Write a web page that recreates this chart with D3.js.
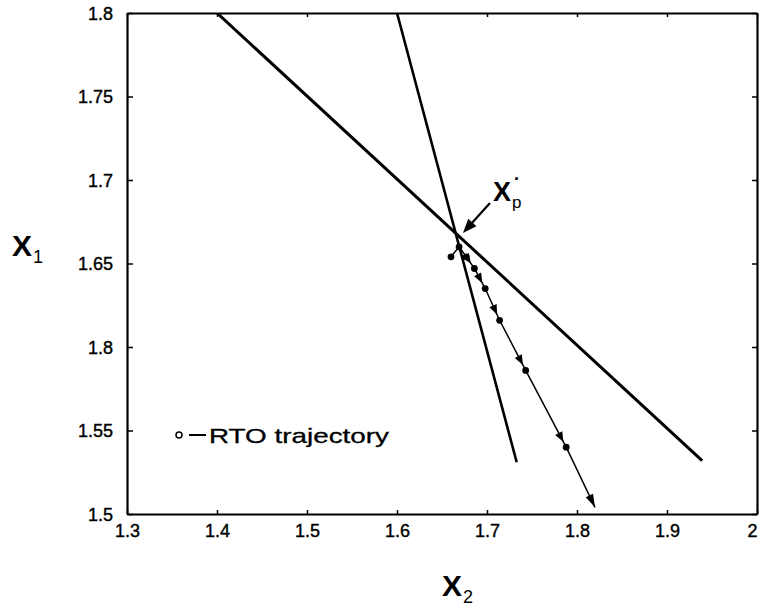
<!DOCTYPE html>
<html>
<head>
<meta charset="utf-8">
<script src="https://cdn.jsdelivr.net/npm/d3@7/dist/d3.min.js"></script>
<style>
  html, body { margin: 0; padding: 0; background: #fff; }
  svg { display: block; }
  text { font-family: "Liberation Sans", Arial, sans-serif; fill: #000; }
</style>
</head>
<body>
<svg id="chart" width="759" height="608"></svg>
<script>
// ---- data ----
const xDomain = [1.3, 2.0];
const yDomain = [1.5, 1.8];
const xTicks = [1.3, 1.4, 1.5, 1.6, 1.7, 1.8, 1.9, 2.0];
const xTickLabels = ["1.3", "1.4", "1.5", "1.6", "1.7", "1.8", "1.9", "2"];
const yTicks = [1.5, 1.55, 1.6, 1.65, 1.7, 1.75, 1.8];
const yTickLabels = ["1.5", "1.55", "1.8", "1.65", "1.7", "1.75", "1.8"];

// constraint lines (x2, x1)
const constraintA = [[1.4, 1.8], [1.939, 1.532]];
const constraintB = [[1.6, 1.8], [1.733, 1.531]];

// RTO trajectory (x2, x1)
const trajX2 = [1.660, 1.669, 1.677, 1.686, 1.698, 1.714, 1.743, 1.788, 1.820];
const trajX1 = [1.654, 1.660, 1.654, 1.647, 1.635, 1.616, 1.586, 1.540, 1.504];

// optimum annotation arrow (tail, tip) in (x2, x1)
const optArrow = [[1.7033, 1.6862], [1.6733, 1.6683]];

// ---- layout ----
const svg = d3.select("#chart");
const L = 127, R = 757, T = 13, B = 514;
const x = d3.scaleLinear().domain(xDomain).range([L, R]);
const y = d3.scaleLinear().domain(yDomain).range([B, T]);

const fmtX = d => xTickLabels[xTicks.findIndex(t => Math.abs(t - d) < 1e-9)];
const fmtY = d => yTickLabels[yTicks.findIndex(t => Math.abs(t - d) < 1e-9)];

// bottom axis
const gB = svg.append("g").attr("transform", `translate(0,${B})`)
  .call(d3.axisBottom(x).tickValues(xTicks).tickFormat(fmtX).tickSizeInner(-4).tickSizeOuter(0).tickPadding(10));
// left axis
const gL = svg.append("g").attr("transform", `translate(${L},0)`)
  .call(d3.axisLeft(y).tickValues(yTicks).tickFormat(fmtY).tickSizeInner(-6).tickSizeOuter(0).tickPadding(14));
// top axis
const gT = svg.append("g").attr("transform", `translate(0,${T})`)
  .call(d3.axisTop(x).tickValues(xTicks).tickFormat("").tickSizeInner(-4).tickSizeOuter(0));
// right axis
const gR = svg.append("g").attr("transform", `translate(${R},0)`)
  .call(d3.axisRight(y).tickValues(yTicks).tickFormat("").tickSizeInner(-5).tickSizeOuter(0));

[gB, gL, gT, gR].forEach(g => {
  g.select(".domain").attr("stroke", "#000").attr("stroke-width", 2.2);
  g.selectAll(".tick line").attr("stroke", "#000").attr("stroke-width", 1.5);
  g.selectAll(".tick text").attr("font-size", 18).attr("fill", "#000")
    .attr("stroke", "#000").attr("stroke-width", 0.4)
    .attr("font-family", "'Liberation Sans', Arial, sans-serif");
});
gL.selectAll(".tick text").attr("dy", "0.36em");
// keep the last x label inside the frame
gB.selectAll(".tick text").filter(d => Math.abs(d - 2.0) < 1e-9).attr("dx", -5);

// clip
svg.append("clipPath").attr("id", "plotclip").append("rect")
  .attr("x", L).attr("y", T).attr("width", R - L).attr("height", B - T);

const plot = svg.append("g").attr("clip-path", "url(#plotclip)");
const line = d3.line().x(d => x(d[0])).y(d => y(d[1]));

plot.append("path").datum(constraintA).attr("d", line)
  .attr("fill", "none").attr("stroke", "#000").attr("stroke-width", 3);
plot.append("path").datum(constraintB).attr("d", line)
  .attr("fill", "none").attr("stroke", "#000").attr("stroke-width", 2.6);

// trajectory
const traj = trajX2.map((v, i) => [v, trajX1[i]]);
plot.append("path").datum(traj).attr("d", line)
  .attr("fill", "none").attr("stroke", "#000").attr("stroke-width", 1.5);

// arrowheads
function arrowHead(g, x0, y0, x1, y1, back, len, wid) {
  const dx = x1 - x0, dy = y1 - y0, d = Math.hypot(dx, dy);
  const ux = dx / d, uy = dy / d;
  const tx = x1 - ux * back, ty = y1 - uy * back;
  const bx = tx - ux * len, by = ty - uy * len;
  const px = -uy * wid / 2, py = ux * wid / 2;
  g.append("path")
    .attr("d", `M${tx},${ty}L${bx + px},${by + py}L${bx - px},${by - py}Z`)
    .attr("fill", "#000");
}
for (let i = 2; i < traj.length - 1; i++) {
  const a = traj[i], b = traj[i + 1];
  const isLast = (i === traj.length - 2);
  arrowHead(plot, x(a[0]), y(a[1]), x(b[0]), y(b[1]), isLast ? 0 : 6, isLast ? 13 : 10, 8);
}
// dots
plot.selectAll("circle.tp").data(traj.slice(0, traj.length - 1)).enter().append("circle")
  .attr("class", "tp").attr("cx", d => x(d[0])).attr("cy", d => y(d[1])).attr("r", 3.4)
  .attr("fill", "#000");

// optimum annotation
const ta = optArrow[0], tb = optArrow[1];
{
  const x0 = x(ta[0]), y0 = y(ta[1]), x1 = x(tb[0]), y1 = y(tb[1]);
  const d = Math.hypot(x1 - x0, y1 - y0);
  svg.append("line").attr("x1", x0).attr("y1", y0)
    .attr("x2", x1 - (x1 - x0) / d * 10).attr("y2", y1 - (y1 - y0) / d * 10)
    .attr("stroke", "#000").attr("stroke-width", 2.2);
  arrowHead(svg, x0, y0, x1, y1, 0, 14, 11);
}

const ann = svg.append("text").attr("x", 493).attr("y", 201);
ann.append("tspan").attr("font-size", 27).attr("font-weight", "bold").text("X");
ann.append("tspan").attr("font-size", 17).attr("dy", 7).attr("dx", 1).text("p");
svg.append("text").attr("x", 514).attr("y", 185).attr("font-size", 18).attr("font-weight", "bold").text("·");

// axis labels
const lx1 = svg.append("text").attr("x", 12).attr("y", 256);
lx1.append("tspan").attr("font-size", 30).attr("font-weight", "bold").text("X");
lx1.append("tspan").attr("font-size", 18).attr("dy", 7).attr("dx", 1).text("1");

const lx2 = svg.append("text").attr("x", 442).attr("y", 596);
lx2.append("tspan").attr("font-size", 30).attr("font-weight", "bold").text("X");
lx2.append("tspan").attr("font-size", 18).attr("dy", 7).attr("dx", 1).text("2");

// legend
svg.append("circle").attr("cx", 179).attr("cy", 435).attr("r", 3)
  .attr("fill", "#fff").attr("stroke", "#000").attr("stroke-width", 1.5);
svg.append("line").attr("x1", 189).attr("x2", 206).attr("y1", 435).attr("y2", 435)
  .attr("stroke", "#000").attr("stroke-width", 2);
svg.append("text").attr("x", 209).attr("y", 443).attr("font-size", 21)
  .attr("stroke", "#000").attr("stroke-width", 0.3)
  .attr("textLength", 180).attr("lengthAdjust", "spacingAndGlyphs").text("RTO trajectory");
</script>
</body>
</html>
